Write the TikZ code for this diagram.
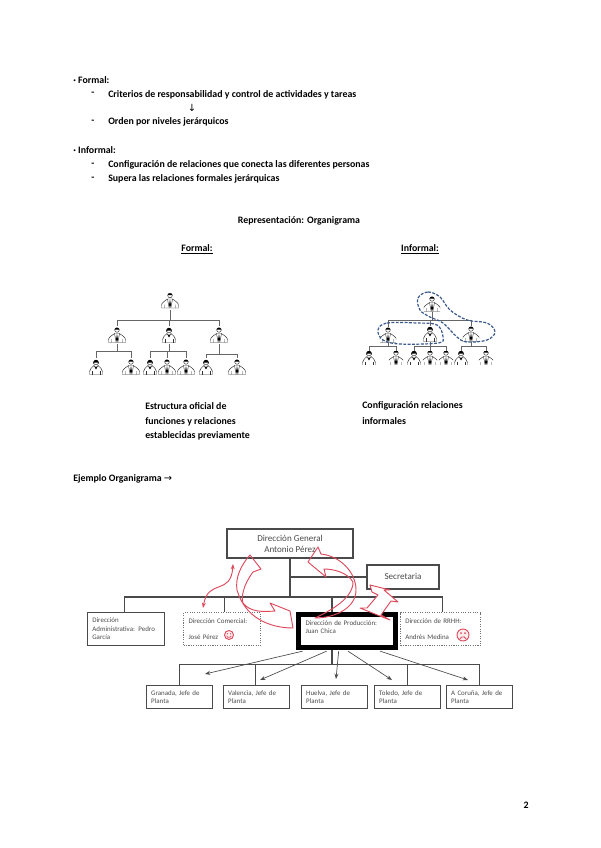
\documentclass[tikz,border=0pt]{standalone}
\usepackage{fontspec}
\usepackage{xcolor}
\setmainfont{Carlito}
\newfontfamily\arrowfont{DejaVu Sans}
\usetikzlibrary{arrows.meta, positioning}
\definecolor{blobblue}{HTML}{3A5A8C}
\definecolor{redline}{HTML}{DD4A5C}
\definecolor{boxgray}{HTML}{4A4A4A}
\newcommand{\manicon}[1]{\begin{scope}[scale=#1, line width=.35pt, draw=black!80]
  \draw (0,-5) circle (2.3);
  \fill (-2.4,-5.3) arc (180:360:2.4 and 1.9) -- cycle;
  \draw (-8.5,7.5) -- (-8.5,5) .. controls (-8.5,1.5) and (-5,1) .. (-2.5,-1.5) -- (2.5,-1.5) .. controls (5,1) and (8.5,1.5) .. (8.5,5) -- (8.5,7.5) -- cycle;
  \fill (0,-1) -- (-1,4.5) -- (0,7) -- (1,4.5) -- cycle;
  \draw (-2.5,-1.5) -- (-.8,7.5) (2.5,-1.5) -- (.8,7.5) (-5.5,4) -- (-5.5,7.5) (5.5,4) -- (5.5,7.5);
\end{scope}}
\newcommand{\womanicon}[1]{\begin{scope}[scale=#1, line width=.35pt, draw=black!80]
  \draw (0,-4.5) circle (2.4);
  \fill (-3,-3) .. controls (-3.5,-8.5) and (3.5,-8.5) .. (3,-3) -- (1.8,-4.5) -- (-1.8,-4.5) -- cycle;
  \draw (-6.5,7.5) -- (-6.5,4.5) .. controls (-6.5,1) and (-3.5,1) .. (-2,-1.5) -- (0,2) -- (2,-1.5) .. controls (3.5,1) and (6.5,1) .. (6.5,4.5) -- (6.5,7.5) -- cycle;
  \fill (0,2) -- (-1.3,-.5) -- (1.3,-.5) -- cycle;
  \draw (-4,4) -- (-4,7.5) (4,4) -- (4,7.5);
\end{scope}}
\tikzset{
  line/.style={anchor=west, inner sep=0pt, yshift=-1pt, font=\fontsize{7.4}{9}\selectfont\bfseries},
  man/.style={inner sep=0pt, minimum width=14.25pt*#1, minimum height=13.5pt*#1, path picture={\manicon{#1}}},
  man/.default=1,
  woman/.style={inner sep=0pt, minimum width=14.25pt*#1, minimum height=13.5pt*#1, path picture={\womanicon{#1}}},
  woman/.default=1,
  tree/.style={draw=black!60, line width=.5pt},
  blob/.style={draw=blobblue, line width=.9pt, dash pattern=on 2.2pt off 1.1pt},
  orgbox/.style={draw=boxgray, line width=.8pt, text=boxgray, inner sep=3.5pt, align=left, anchor=north west, font=\fontsize{5.2}{6.4}\selectfont},
  dirbox/.style={orgbox, minimum width=57.75pt, minimum height=24.75pt, text width=50.5pt},
  dotbox/.style={dirbox, draw=black!55, densely dotted, line width=1pt},
  jefebox/.style={orgbox, minimum width=49.5pt, minimum height=15.75pt, text width=42.5pt},
  orgline/.style={draw=boxgray, line width=.8pt},
  redarrow/.style={draw=redline, line width=.7pt, line join=round},
  face/.style={circle, draw=redline, line width=.7pt, minimum size=#1, inner sep=0pt},
}
\begin{document}
\begin{tikzpicture}[x=0.75pt, y=-0.75pt]
\useasboundingbox (0,0) rectangle (600,848);
% texto
\node[line] (formal) at (73,79) {· Formal:};
\node[line] (d1) at (91,93) {-};
\node[line] (criterios) at (108,93) {Criterios de responsabilidad y control de actividades y tareas};
\node[line, anchor=center] (flecha) at (192,107) {\arrowfont\mdseries ↓};
\node[line] (d2) at (91,121) {-};
\node[line] (orden) at (108,121) {Orden por niveles jerárquicos};
\node[line] (informal) at (73,149) {· Informal:};
\node[line] (d3) at (91,164) {-};
\node[line] (config) at (108,164) {Configuración de relaciones que conecta las diferentes personas};
\node[line] (d4) at (91,178) {-};
\node[line] (supera) at (108,178) {Supera las relaciones formales jerárquicas};
\node[line, anchor=center] (repr) at (299,220) {Representación: Organigrama};
\node[line, anchor=center] (tformal) at (197,248) {\underline{Formal:}};
\node[line, anchor=center] (tinformal) at (420,248) {\underline{Informal:}};
\node[line] (e1) at (145,405) {Estructura oficial de};
\node[line] (e2) at (145,420) {funciones y relaciones};
\node[line] (e3) at (145,434) {establecidas previamente};
\node[line] (c1) at (362,405) {Configuración relaciones};
\node[line] (c2) at (362,420) {informales};
\node[line] (ejemplo) at (73,478) {Ejemplo Organigrama {\arrowfont\mdseries →}};
\node[line, anchor=center] (page) at (526,804) {2};
% organigrama formal
\node[man] (f0) at (170,300.5) {};
\node[man] (f1) at (117,335) {};
\node[woman] (f2) at (169,335) {};
\node[man] (f3) at (219,335) {};
\node[woman] (f11) at (96,367) {};
\node[man] (f12) at (131,367) {};
\node[woman] (f21) at (150,367) {};
\node[man] (f22) at (167,367) {};
\node[man] (f23) at (186,367) {};
\node[woman] (f31) at (206,367) {};
\node[man] (f32) at (237,367) {};
\coordinate (fb0) at (170,320.5);
\coordinate (fb1) at (117,351);
\coordinate (fb2) at (169,351);
\coordinate (fb3) at (219,354);
\draw[tree] (f0) -- (fb0);
\draw[tree] (f1) -- (fb1);
\draw[tree] (f2) -- (fb2);
\draw[tree] (f3) -- (fb3);
\foreach \n in {f1,f2,f3} \draw[tree] (fb0) -| (\n.north);
\foreach \n in {f11,f12} \draw[tree] (fb1) -| (\n.north);
\foreach \n in {f21,f22,f23} \draw[tree] (fb2) -| (\n.north);
\foreach \n in {f31,f32} \draw[tree] (fb3) -| (\n.north);
% organigrama informal
\node[man=.85] (i0) at (432,304) {};
\node[man=.85] (i1) at (388,335) {};
\node[woman=.85] (i2) at (430,334) {};
\node[man=.85] (i3) at (471,334) {};
\node[woman=.75] (i11) at (369,358) {};
\node[man=.75] (i12) at (396,358) {};
\node[woman=.75] (i21) at (414,358) {};
\node[man=.75] (i22) at (430,358) {};
\node[man=.75] (i23) at (446,358) {};
\node[woman=.75] (i31) at (461,358) {};
\node[man=.75] (i32) at (486,358) {};
\coordinate (ib0) at (432,320);
\coordinate (ib1) at (388,346);
\coordinate (ib2) at (430,346);
\coordinate (ib3) at (471,346);
\draw[tree] (i0) -- (ib0);
\draw[tree] (i1) -- (ib1);
\draw[tree] (i2) -- (ib2);
\draw[tree] (i3) -- (ib3);
\foreach \n in {i1,i2,i3} \draw[tree] (ib0) -| (\n.north);
\foreach \n in {i11,i12} \draw[tree] (ib1) -| (\n.north);
\foreach \n in {i21,i22,i23} \draw[tree] (ib2) -| (\n.north);
\foreach \n in {i31,i32} \draw[tree] (ib3) -| (\n.north);
\draw[blob] plot[smooth cycle, tension=.6] coordinates {(418,298) (428,292) (440,297) (450,310) (467,320) (487,323) (495,332) (487,340) (467,342) (457,337) (443,323) (430,317) (420,310)};
\draw[blob] plot[smooth cycle, tension=.6] coordinates {(378,330) (387,323) (417,323) (437,325) (443,337) (438,343) (400,344) (383,340)};
% ejemplo
\node[orgbox, minimum width=94.5pt, minimum height=21.75pt, align=center, anchor=center, font=\fontsize{6.8}{8.2}\selectfont] (dg) at (290,543.5) {Dirección General\\Antonio Pérez};
\node[orgbox, minimum width=54pt, minimum height=18pt, anchor=center, font=\fontsize{6.8}{8.2}\selectfont] (secretaria) at (403,577) {\raisebox{1.5pt}{Secretaria}};
\node[dirbox] (admin) at (87,612) {Dirección\\Administrativa: Pedro\\García};
\node[dotbox, text=boxgray] (comercial) at (183,612) {Dirección Comercial:\\[5pt]José Pérez};
\node[dirbox, draw=black, line width=3.6pt, minimum width=72.75pt, text width=62pt, anchor=north west, text=boxgray] (prod) at (296,612) {Dirección de Producción:\\Juan Chica\\[-1pt]~};
\node[dotbox, minimum width=60pt, text width=53pt] (rrhh) at (400,612) {Dirección de RRHH:\\[5pt]Andrés Medina};
\node[face=6.75pt, fill=redline!10, path picture={\draw[redline, line width=.5pt] (-2.4,.8) arc (160:20:2.5); \fill[redline] (-1.6,-1.2) circle (.7) (1.6,-1.2) circle (.7);}] (feliz) at (229,635) {};
\node[face=9pt, fill=redline!10, path picture={\draw[redline, line width=.6pt] (-3,3.8) arc (200:340:3.2); \fill[redline] (-2,-1.8) circle (1) (2,-1.8) circle (1);}] (triste) at (463,635) {};
\node[jefebox] (granada) at (146,685) {Granada, Jefe de\\Planta};
\node[jefebox, right=7.45pt of granada] (valencia) {Valencia, Jefe de\\Planta};
\node[jefebox, right=8.2pt of valencia] (huelva) {Huelva, Jefe de\\Planta};
\node[jefebox, right=4.45pt of huelva] (toledo) {Toledo, Jefe de\\Planta};
\node[jefebox, right=3.7pt of toledo] (coruna) {A Coruña, Jefe de\\Planta};
\coordinate (mainbar) at (290,597);
\coordinate (jefebar) at (332,664);
\draw[orgline] (dg.south) -- (mainbar);
\draw[orgline] (secretaria.west) -- (dg.south |- secretaria.west);
\draw[orgline] (mainbar) -| ([xshift=-1.5pt]admin.north);
\draw[orgline] (mainbar) -| ([xshift=1.5pt]comercial.north);
\draw[orgline] (mainbar) -| ([xshift=27pt]prod.north west);
\draw[orgline] (mainbar) -| ([xshift=1.5pt]rrhh.north);
\draw[orgline] ([xshift=27pt]prod.south west) -- (jefebar);
\foreach \n/\s in {granada/0,valencia/-1,toledo/0,coruna/0}
  \draw[orgline, line width=.7pt] (jefebar) -| ([xshift=\s pt]\n.north);
% flechas a los jefes
\coordinate (g1) at (205,674);
\coordinate (v1) at (260,680);
\coordinate (h1) at (336,679);
\coordinate (t1) at (392,680);
\coordinate (c1e) at (468,680);
\foreach \s/\e in {5/g1,23/v1,32/h1,39/t1,63/c1e}
  \draw[-{Stealth[length=4pt]}, draw=boxgray, line width=.5pt] ([xshift=\s pt, yshift=-1pt]prod.south west) -- (\e);
% flechas rojas
\coordinate (redlow) at (203,608);
\coordinate (redhigh) at (233,564);
\draw[redarrow, {Stealth[length=4pt]}-{Stealth[length=4pt]}] (redlow) .. controls (208,578) and (231,596) .. (redhigh);
\draw[redarrow] (250,555) -- (261,569) -- (253,572) .. controls (243,585) and (241,598) .. (243,603) .. controls (250,612) and (262,612) .. (275,611) -- (270,603) -- (290,611) -- (293,628) .. controls (270,628) and (245,618) .. (237,590) .. controls (235,578) and (241,565) .. (250,555) -- cycle;
\draw[redarrow] (308,562) -- (318,547) -- (321,554) .. controls (340,556) and (356,572) .. (356,590) .. controls (356,608) and (335,618) .. (315,618) .. controls (332,610) and (353,598) .. (353,582) .. controls (347,572) and (333,569) .. (324,569) -- (326,577) -- cycle;
\draw[redarrow, fill=white] (370,585) -- (390,590) -- (384,590) -- (398,602) -- (391,601) -- (381,615) -- (390,620) -- (360,608) -- (367,608) -- (378,595) -- (372,592) -- cycle;
\end{tikzpicture}
\end{document}
